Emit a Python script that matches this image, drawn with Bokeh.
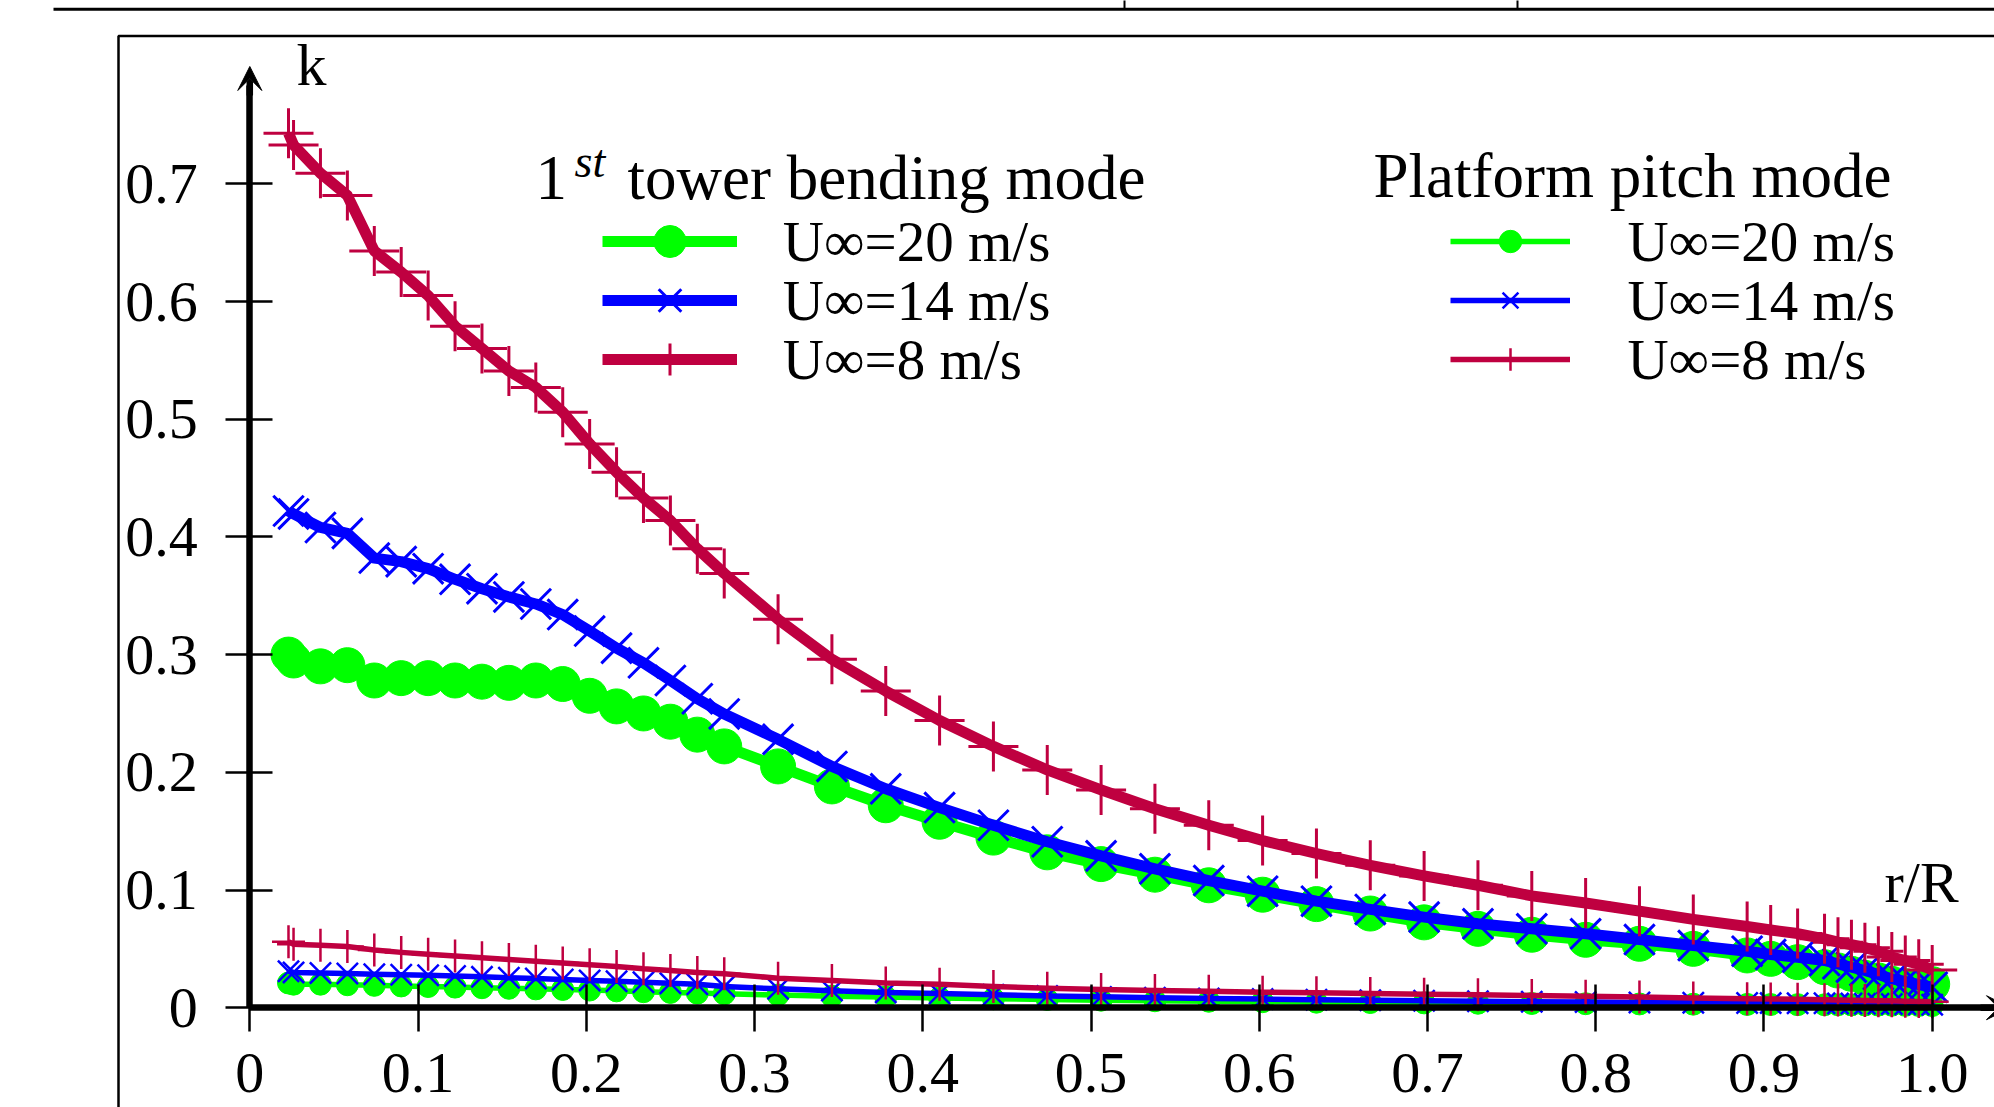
from bokeh.plotting import figure
from bokeh.models import (Range1d, FixedTicker, Legend, LegendItem, Label, Arrow,
                          VeeHead, BoxAnnotation)
from bokeh.embed import file_html
from bokeh.resources import INLINE

# ---------------- data ----------------
r_over_R = [0.023, 0.026, 0.042, 0.058, 0.074, 0.090, 0.106, 0.122, 0.138, 0.154, 0.170, 0.186,
            0.202, 0.218, 0.234, 0.250, 0.266, 0.282,
            0.314, 0.346, 0.378, 0.410, 0.442, 0.474, 0.506, 0.538, 0.570, 0.602, 0.634, 0.666,
            0.698, 0.730, 0.762, 0.794, 0.826, 0.858, 0.890,
            0.904, 0.920, 0.936, 0.944, 0.952, 0.960, 0.968, 0.976, 0.984, 0.992, 1.000]

# 1st tower bending mode
tower_U20 = [0.300, 0.295, 0.290, 0.291, 0.278, 0.280, 0.280, 0.278, 0.277, 0.276, 0.278, 0.275,
             0.265, 0.256, 0.250, 0.243, 0.232, 0.222,
             0.205, 0.188, 0.172, 0.158, 0.1445, 0.132, 0.122, 0.113, 0.104, 0.096, 0.088, 0.080,
             0.0725, 0.067, 0.062, 0.0577, 0.0543, 0.050, 0.0444,
             0.0415, 0.0387, 0.0344, 0.0316, 0.0288, 0.0254, 0.0231, 0.0203, 0.0183, 0.0169, 0.020]
tower_U14 = [0.422, 0.4195, 0.408, 0.403, 0.382, 0.379, 0.373, 0.364, 0.356, 0.349, 0.343, 0.334,
             0.320, 0.3055, 0.293, 0.278, 0.2625, 0.2496,
             0.228, 0.205, 0.186, 0.170, 0.155, 0.141, 0.129, 0.118, 0.108, 0.099, 0.0905, 0.0835,
             0.077, 0.0713, 0.067, 0.0628, 0.0579, 0.0528, 0.048,
             0.0452, 0.0429, 0.0401, 0.0373, 0.0344, 0.0316, 0.0282, 0.0245, 0.0223, 0.0197, 0.0174]
tower_U8 = [0.743, 0.733, 0.709, 0.690, 0.643, 0.625, 0.605, 0.579, 0.560, 0.541, 0.527, 0.506,
            0.479, 0.455, 0.433, 0.414, 0.390, 0.369,
            0.330, 0.296, 0.269, 0.244, 0.222, 0.202, 0.185, 0.169, 0.155, 0.142, 0.131, 0.121,
            0.112, 0.104, 0.095, 0.089, 0.082, 0.075, 0.069,
            0.066, 0.063, 0.0585, 0.0557, 0.0535, 0.051, 0.048, 0.043, 0.040, 0.037, 0.032]

# Platform pitch mode
pitch_U20 = [0.021, 0.020, 0.020, 0.0195, 0.019, 0.0185, 0.018, 0.0175, 0.017, 0.0165, 0.016, 0.0155,
             0.015, 0.0143, 0.0136, 0.013, 0.0124, 0.0118,
             0.0108, 0.0098, 0.009, 0.0083, 0.0076, 0.007, 0.0064, 0.0059, 0.0055, 0.0051, 0.0047, 0.0044,
             0.0041, 0.0038, 0.0036, 0.0034, 0.0032, 0.003, 0.0028,
             0.0027, 0.0026, 0.0025, 0.0025, 0.0024, 0.0023, 0.0022, 0.0021, 0.002, 0.0019, 0.0018]
pitch_U14 = [0.031, 0.030, 0.0295, 0.029, 0.0285, 0.028, 0.0275, 0.027, 0.0262, 0.0255, 0.0248, 0.024,
             0.0232, 0.0224, 0.0216, 0.0208, 0.020, 0.018,
             0.016, 0.0145, 0.013, 0.012, 0.011, 0.010, 0.0092, 0.0085, 0.0079, 0.0073, 0.0068, 0.0063,
             0.0059, 0.0055, 0.0051, 0.0048, 0.0045, 0.0042, 0.004,
             0.0039, 0.0038, 0.0037, 0.0036, 0.0035, 0.0034, 0.0033, 0.0032, 0.003, 0.0028, 0.0025]
pitch_U8 = [0.056, 0.054, 0.053, 0.052, 0.049, 0.047, 0.0455, 0.044, 0.0425, 0.041, 0.0395, 0.038,
            0.0365, 0.035, 0.033, 0.0316, 0.030, 0.0288,
            0.0251, 0.0231, 0.021, 0.020, 0.018, 0.0166, 0.0155, 0.0146, 0.014, 0.0132, 0.0126, 0.012,
            0.0115, 0.011, 0.0104, 0.0098, 0.009, 0.0083, 0.0077,
            0.0074, 0.0071, 0.0068, 0.0066, 0.0064, 0.0062, 0.006, 0.0058, 0.0055, 0.0052, 0.005]

x_ticks = [0.0, 0.1, 0.2, 0.3, 0.4, 0.5, 0.6, 0.7, 0.8, 0.9, 1.0]
x_tick_labels = ["0", "0.1", "0.2", "0.3", "0.4", "0.5", "0.6", "0.7", "0.8", "0.9", "1.0"]
y_ticks = [0.0, 0.1, 0.2, 0.3, 0.4, 0.5, 0.6, 0.7]
y_tick_labels = ["0", "0.1", "0.2", "0.3", "0.4", "0.5", "0.6", "0.7"]

series_labels = ["U\u221e=20 m/s", "U\u221e=14 m/s", "U\u221e=8 m/s"]
title_tower = "tower bending mode"
title_pitch = "Platform pitch mode"

# ---------------- layout ----------------
W, H = 1994, 1107
X0_PX, X_SCALE = 249.3, 1682.4      # pixel of r/R = 0, pixels per unit
Y0_PX, Y_SCALE = 1007.2, 1177.0     # pixel of k = 0, pixels per unit
LABEL_SHIFT = 23                    # label baseline correction (px)


def X(px):
    return (px - X0_PX) / X_SCALE


def Y(py):
    return (Y0_PX - py) / Y_SCALE


GREEN, BLUE, RED = "#00ff00", "#0000ff", "#bf0040"
FONT = "Liberation Serif"

p = figure(width=W, height=H, output_backend="svg", toolbar_location=None, tools="",
           x_range=Range1d(X(0), X(W)), y_range=Range1d(Y(H), Y(0)),
           min_border=0, min_border_left=0, min_border_right=0, min_border_top=0,
           min_border_bottom=0)
p.outline_line_color = None
p.background_fill_color = "white"
p.border_fill_color = "white"
p.grid.visible = False

for ax, ticks, labels in ((p.xaxis[0], x_ticks, x_tick_labels), (p.yaxis[0], y_ticks, y_tick_labels)):
    ax.fixed_location = 0
    ax.ticker = FixedTicker(ticks=ticks)
    ax.major_label_overrides = dict(zip(ticks, labels))
    ax.axis_line_width = 6.5
    ax.axis_line_color = "black"
    ax.major_tick_line_width = 2.5
    ax.major_tick_in = 23
    ax.major_tick_out = 24
    ax.minor_tick_line_color = None
    ax.major_label_text_font = FONT
    ax.major_label_text_font_size = "58px"
    ax.major_label_text_color = "black"
p.xaxis[0].bounds = (0, X(2000))
p.yaxis[0].bounds = (0, Y(85))
p.xaxis[0].major_label_standoff = 22
p.yaxis[0].major_label_standoff = 28

# ---------------- data glyphs ----------------
t20_l = p.line(r_over_R, tower_U20, line_color=GREEN, line_width=11, line_join="round")
t20_m = p.scatter(r_over_R, tower_U20, marker="circle", size=35, fill_color=GREEN, line_color=GREEN)
t14_l = p.line(r_over_R, tower_U14, line_color=BLUE, line_width=11, line_join="round")
t14_m = p.scatter(r_over_R, tower_U14, marker="x", size=43, line_color=BLUE, line_width=3)
t8_l = p.line(r_over_R, tower_U8, line_color=RED, line_width=11, line_join="round")
t8_m = p.scatter(r_over_R, tower_U8, marker="cross", size=50, line_color=RED, line_width=3)

p20_l = p.line(r_over_R, pitch_U20, line_color=GREEN, line_width=5.5, line_join="round")
p20_m = p.scatter(r_over_R, pitch_U20, marker="circle", size=22, fill_color=GREEN, line_color=GREEN)
p14_l = p.line(r_over_R, pitch_U14, line_color=BLUE, line_width=5.5, line_join="round")
p14_m = p.scatter(r_over_R, pitch_U14, marker="x", size=30, line_color=BLUE, line_width=2.5)
p8_l = p.line(r_over_R, pitch_U8, line_color=RED, line_width=5.5, line_join="round")
p8_m = p.scatter(r_over_R, pitch_U8, marker="cross", size=33, line_color=RED, line_width=2.5)

# ---------------- legends (one per row so the rows sit as in the figure) ----------------
ROW_CENTERS = [241.0, 300.0, 359.0]


def make_legend(label, renderers, row_c, left_px, glyph_w, glyph_h, standoff):
    row_h = 80
    return Legend(items=[LegendItem(label=label, renderers=renderers)],
                  location=(left_px, H - row_c - row_h / 2),
                  orientation="vertical", padding=0, margin=0, spacing=0,
                  glyph_width=glyph_w, glyph_height=glyph_h, label_height=row_h,
                  label_standoff=standoff, label_text_font=FONT,
                  label_text_font_size="57px", label_text_color="black",
                  border_line_color=None, background_fill_alpha=0)


tower_r = [[t20_l, t20_m], [t14_l, t14_m], [t8_l, t8_m]]
pitch_r = [[p20_l, p20_m], [p14_l, p14_m], [p8_l, p8_m]]
for i in range(3):
    p.add_layout(make_legend(series_labels[i], tower_r[i], ROW_CENTERS[i], 601.8, 135, 80, 46))
    p.add_layout(make_legend(series_labels[i], pitch_r[i], ROW_CENTERS[i], 1450.4, 120, 56, 57))


# legend titles
def lab(xpx, ypx, text, size="63px", style="normal"):
    return Label(x=X(xpx), y=Y(ypx - LABEL_SHIFT), text=text, text_font=FONT, text_font_size=size,
                 text_font_style=style, text_color="black", text_baseline="alphabetic",
                 text_align="left")


p.add_layout(lab(535.0, 200, "1"))
p.add_layout(lab(574.0, 184, "st", size="46px", style="italic"))
p.add_layout(lab(627.0, 200, title_tower))
p.add_layout(lab(1373.0, 198, title_pitch))

# axis names
p.add_layout(lab(296.0, 87, "k", size="60px"))
p.add_layout(lab(1884.0, 905, "r/R", size="58px"))

# axis arrow heads
p.add_layout(Arrow(end=VeeHead(size=24, fill_color="black", line_color="black", line_width=1),
                   x_start=0, y_start=Y(95), x_end=0, y_end=Y(66), line_width=6.5,
                   line_color="black"))
p.add_layout(Arrow(end=VeeHead(size=24, fill_color="black", line_color="black", line_width=1),
                   x_start=X(1980), y_start=0, x_end=X(2010), y_end=0, line_width=6.5,
                   line_color="black"))

# surrounding frame and table rule of the page
p.add_layout(BoxAnnotation(left=X(118), right=X(2300), top=Y(35.5), bottom=Y(1400),
                           fill_alpha=0, line_color="black", line_alpha=1, line_width=2.5))
p.add_layout(BoxAnnotation(left=X(53), right=X(2300), top=Y(7.3), bottom=Y(10.3),
                           fill_color="black", fill_alpha=1, line_color=None))
for vx in (1124, 1517):
    p.add_layout(BoxAnnotation(left=X(vx - 1), right=X(vx + 1), top=Y(-20), bottom=Y(9),
                               fill_color="black", fill_alpha=1, line_color=None))

open("out.html", "w").write(file_html(p, INLINE))
